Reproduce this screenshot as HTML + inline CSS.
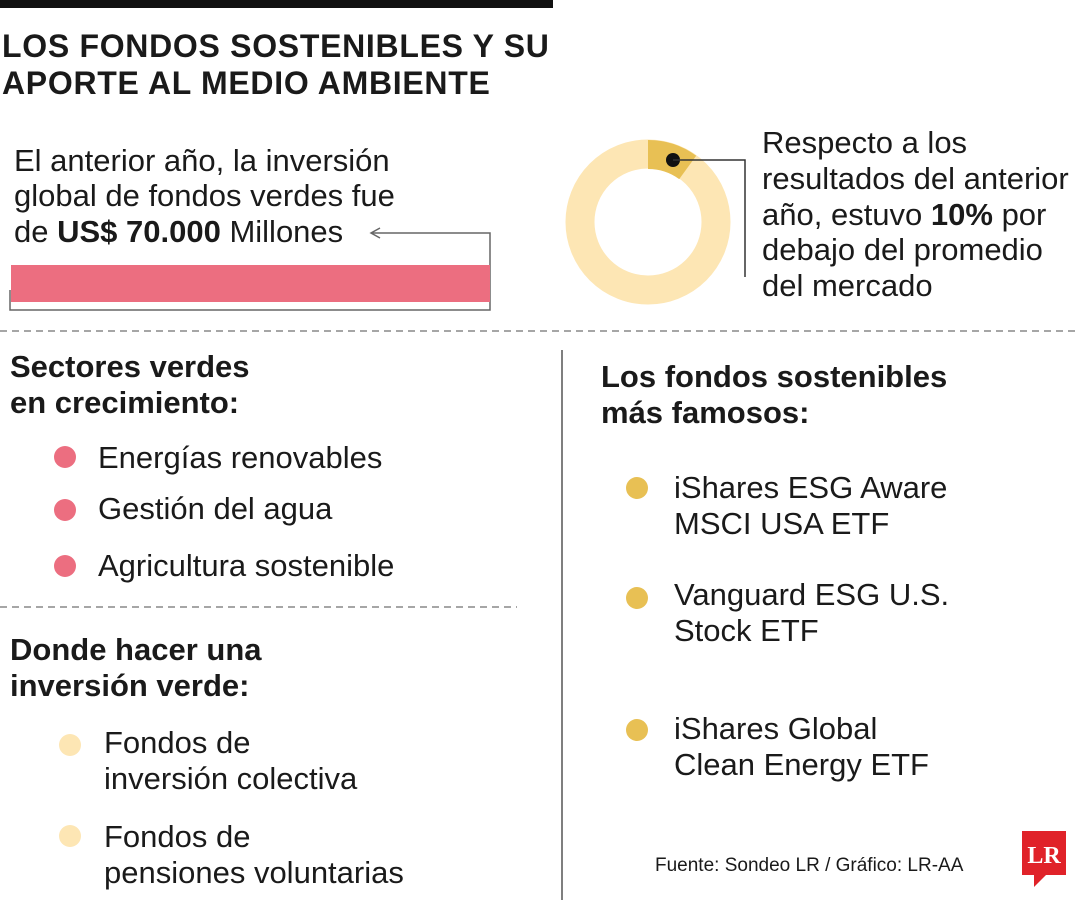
<!DOCTYPE html>
<html><head><meta charset="utf-8"><style>
body{margin:0;width:1080px;height:900px;background:#fff;position:relative;overflow:hidden;font-family:"Liberation Sans",sans-serif;color:#1a1a1a}
.t{position:absolute;white-space:nowrap;line-height:36px;font-size:31px;letter-spacing:0px}
.h{position:absolute;white-space:nowrap;font-weight:bold;font-size:31px;line-height:36px;letter-spacing:0px}
.b{position:absolute;width:22px;height:22px;border-radius:50%}
</style></head><body>
<div style="position:absolute;left:0;top:0;width:553px;height:8px;background:#111"></div>
<div style="position:absolute;left:2px;top:28px;font-weight:bold;font-size:32px;line-height:37px;letter-spacing:0.7px">LOS FONDOS SOSTENIBLES Y SU<br>APORTE AL MEDIO AMBIENTE</div>

<div class="t" style="left:14px;top:143px">El anterior año, la inversión</div>
<div class="t" style="left:14px;top:178px">global de fondos verdes fue</div>
<div class="t" style="left:14px;top:214px">de <b>US$ 70.000</b> Millones</div>

<svg style="position:absolute;left:0;top:0" width="1080" height="900">
<polyline points="372,233 490,233 490,310 10,310 10,290" fill="none" stroke="#666" stroke-width="1.5"/>
<polyline points="380,228 371,233 380,238" fill="none" stroke="#666" stroke-width="1.5"/>
<rect x="11" y="265" width="479" height="37" fill="#ec6e80"/>
<circle cx="648" cy="222" r="68" fill="none" stroke="#fde6b4" stroke-width="29"/>
<path d="M648,140 A82,82 0 0 1 696.2,155.7 L679.2,179.1 A53,53 0 0 0 648,169 Z" fill="#e8c054"/>
<circle cx="673" cy="160" r="7" fill="#111"/>
<polyline points="673,160 745,160 745,277" fill="none" stroke="#333" stroke-width="1.5"/>
<line x1="0" y1="331" x2="1080" y2="331" stroke="#888" stroke-width="1.5" stroke-dasharray="7,5"/>
<line x1="0" y1="607" x2="517" y2="607" stroke="#888" stroke-width="1.5" stroke-dasharray="7,5"/>
<line x1="562" y1="350" x2="562" y2="900" stroke="#555" stroke-width="1.5"/>
</svg>

<div class="t" style="left:762px;top:125px">Respecto a los</div>
<div class="t" style="left:762px;top:161px">resultados del anterior</div>
<div class="t" style="left:762px;top:197px">año, estuvo <b>10%</b> por</div>
<div class="t" style="left:762px;top:232px">debajo del promedio</div>
<div class="t" style="left:762px;top:268px">del mercado</div>

<div class="h" style="left:10px;top:349px">Sectores verdes<br>en crecimiento:</div>
<div class="b" style="left:54px;top:446px;background:#ec6e80"></div>
<div class="t" style="left:98px;top:440px">Energías renovables</div>
<div class="b" style="left:54px;top:499px;background:#ec6e80"></div>
<div class="t" style="left:98px;top:491px">Gestión del agua</div>
<div class="b" style="left:54px;top:555px;background:#ec6e80"></div>
<div class="t" style="left:98px;top:548px">Agricultura sostenible</div>

<div class="h" style="left:10px;top:632px">Donde hacer una<br>inversión verde:</div>
<div class="b" style="left:59px;top:734px;background:#fde6b4"></div>
<div class="t" style="left:104px;top:725px">Fondos de<br>inversión colectiva</div>
<div class="b" style="left:59px;top:825px;background:#fde6b4"></div>
<div class="t" style="left:104px;top:819px">Fondos de<br>pensiones voluntarias</div>

<div class="h" style="left:601px;top:359px">Los fondos sostenibles<br>más famosos:</div>
<div class="b" style="left:626px;top:477px;background:#e8c054"></div>
<div class="t" style="left:674px;top:470px">iShares ESG Aware<br>MSCI USA ETF</div>
<div class="b" style="left:626px;top:587px;background:#e8c054"></div>
<div class="t" style="left:674px;top:577px">Vanguard ESG U.S.<br>Stock ETF</div>
<div class="b" style="left:626px;top:719px;background:#e8c054"></div>
<div class="t" style="left:674px;top:711px">iShares Global<br>Clean Energy ETF</div>

<div style="position:absolute;left:655px;top:853px;font-size:19px;line-height:26px;white-space:nowrap">Fuente: Sondeo LR / Gráfico: LR-AA</div>
<svg style="position:absolute;left:1020px;top:829px" width="50" height="60">
<path d="M2,2 H46 V46 H26 L14,58 V46 H2 Z" fill="#e02229"/>
<text x="24" y="34" font-family="Liberation Serif,serif" font-weight="bold" font-size="24" fill="#fff" text-anchor="middle">LR</text>
</svg>
</body></html>
